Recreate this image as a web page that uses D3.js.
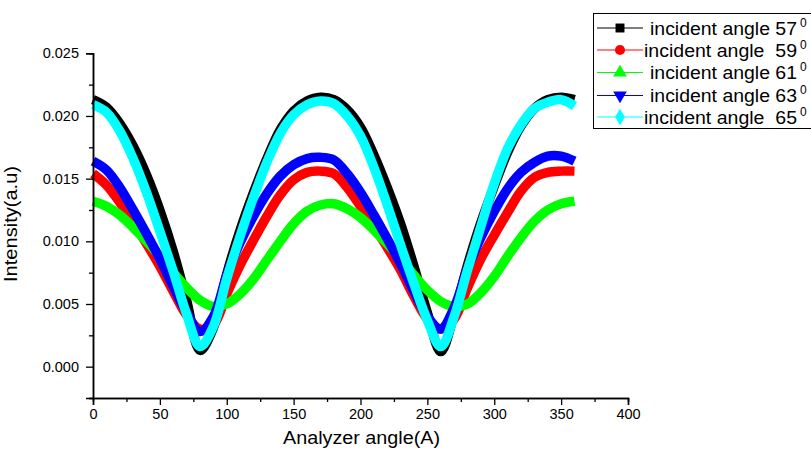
<!DOCTYPE html>
<html>
<head>
<meta charset="utf-8">
<script src="https://cdn.jsdelivr.net/npm/d3@7"></script>
<style>
  body { margin: 0; background: #fff; }
  svg { display: block; font-family: "Liberation Sans", Arial, sans-serif; }
</style>
</head>
<body>
<div id="chart"></div>
<script>

// analyzer angle (degrees)
var angles = [0, 10, 20, 30, 40, 50, 60, 70, 80, 90, 100, 110, 120, 130, 140, 150, 160, 170, 180,
  190, 200, 210, 220, 230, 240, 250, 260, 270, 280, 290, 300, 310, 320, 330, 340, 350, 360];

// intensity for each incident angle
var angle57 = [0.0213, 0.0207, 0.0194, 0.0176, 0.0153, 0.0125, 0.0092, 0.0053, 0.0013, 0.0031, 0.0074, 0.0109,
  0.0139, 0.0166, 0.0189, 0.0204, 0.0212, 0.0215, 0.0213, 0.0205, 0.0191, 0.0169, 0.0143, 0.0114, 0.0080,
  0.0043, 0.0012, 0.0042, 0.0081, 0.0115, 0.0144, 0.0171, 0.0192, 0.0206, 0.0213, 0.0215, 0.0213];
var angle59 = [0.0154, 0.0145, 0.0131, 0.0115, 0.0098, 0.0080, 0.0060, 0.0041, 0.0030, 0.0033, 0.0058, 0.0081,
  0.0101, 0.0120, 0.0137, 0.0149, 0.0155, 0.0156, 0.0154, 0.0143, 0.0128, 0.0112, 0.0095, 0.0077, 0.0056,
  0.0038, 0.0030, 0.0038, 0.0063, 0.0086, 0.0105, 0.0123, 0.0140, 0.0151, 0.0155, 0.0156, 0.0156];
var angle61 = [0.0132, 0.0128, 0.0121, 0.0111, 0.0100, 0.0088, 0.0075, 0.0063, 0.0053, 0.0048, 0.0050, 0.0058,
  0.0070, 0.0085, 0.0100, 0.0114, 0.0124, 0.0129, 0.0130, 0.0126, 0.0119, 0.0109, 0.0098, 0.0086, 0.0073,
  0.0061, 0.0052, 0.0048, 0.0050, 0.0059, 0.0072, 0.0088, 0.0103, 0.0116, 0.0125, 0.0130, 0.0132];
var angle63 = [0.0164, 0.0157, 0.0143, 0.0125, 0.0106, 0.0086, 0.0064, 0.0043, 0.0028, 0.0040, 0.0073, 0.0099,
  0.0120, 0.0138, 0.0152, 0.0161, 0.0166, 0.0167, 0.0165, 0.0154, 0.0139, 0.0121, 0.0102, 0.0082, 0.0060,
  0.0040, 0.0030, 0.0047, 0.0078, 0.0103, 0.0124, 0.0142, 0.0155, 0.0163, 0.0168, 0.0168, 0.0164];
var angle65 = [0.0209, 0.0203, 0.0188, 0.0166, 0.0139, 0.0108, 0.0076, 0.0042, 0.0016, 0.0032, 0.0070, 0.0104,
  0.0135, 0.0163, 0.0186, 0.0201, 0.0209, 0.0212, 0.0210, 0.0200, 0.0184, 0.0159, 0.0129, 0.0097, 0.0066,
  0.0037, 0.0016, 0.0040, 0.0077, 0.0112, 0.0146, 0.0174, 0.0193, 0.0206, 0.0211, 0.0213, 0.0208];

var seriesNames = ["57", "59", "61", "63", "65"];
var seriesGaps = ["incident angle ", "incident angle  ", "incident angle ", "incident angle ", "incident angle  "];
var seriesColors = ["#000000", "#ff0000", "#00ff00", "#0000ff", "#00ffff"];
var seriesSymbols = [d3.symbolSquare, d3.symbolCircle, d3.symbolTriangle, d3.symbolTriangle, d3.symbolDiamond];
var allSeries = [angle57, angle59, angle61, angle63, angle65];

var xTicks = [0, 50, 100, 150, 200, 250, 300, 350, 400];
var yTicks = [0.000, 0.005, 0.010, 0.015, 0.020, 0.025];

var W = 811, H = 449;

var svg = d3.select("#chart").append("svg")
    .attr("width", W)
    .attr("height", H);

var x = d3.scaleLinear().domain([0, 400]).range([93, 628]);
var y = d3.scaleLinear().domain([-0.0025, 0.025]).range([398, 53.3]);

// curves: thick bands like the dense markers of the original
var line = d3.line()
    .x(function(d) { return x(d[0]); })
    .y(function(d) { return y(d[1]); })
    .curve(d3.curveCatmullRom);

allSeries.forEach(function(vals, i) {
  var pts = angles.map(function(a, j) { return [a, vals[j]]; });
  svg.append("path")
    .datum(pts)
    .attr("d", line)
    .attr("fill", "none")
    .attr("stroke", seriesColors[i])
    .attr("stroke-width", 9.5)
    .attr("stroke-linejoin", "round");
});

// Y axis
svg.append("g")
    .attr("transform", "translate(93,0)")
    .call(d3.axisLeft(y).tickValues(yTicks).tickSize(7).tickPadding(7)
      .tickFormat(d3.format(".3f")));
svg.append("g")
    .attr("transform", "translate(93,0)")
    .call(d3.axisLeft(y).tickValues([-0.0025, 0.0025, 0.0075, 0.0125, 0.0175, 0.0225]).tickSize(4).tickFormat(""));

// X axis
svg.append("g")
    .attr("transform", "translate(0,398)")
    .call(d3.axisBottom(x).tickValues(xTicks).tickSize(7).tickPadding(4));
svg.append("g")
    .attr("transform", "translate(0,398)")
    .call(d3.axisBottom(x).tickValues([25, 75, 125, 175, 225, 275, 325, 375]).tickSize(4).tickFormat(""));

svg.selectAll(".domain").attr("stroke", "#000").attr("stroke-width", 1.5);
svg.selectAll(".tick line").attr("stroke", "#000").attr("stroke-width", 1.3);
svg.selectAll(".tick text")
    .attr("font-family", "Liberation Sans, Arial, sans-serif")
    .attr("font-size", 14.5)
    .attr("fill", "#000");

// axis titles
svg.append("text")
    .attr("x", 283)
    .attr("y", 444)
    .attr("font-size", 17.5)
    .attr("textLength", 157)
    .attr("lengthAdjust", "spacingAndGlyphs")
    .text("Analyzer angle(A)");

svg.append("text")
    .attr("transform", "translate(17,282) rotate(-90)")
    .attr("font-size", 17.5)
    .attr("textLength", 116)
    .attr("lengthAdjust", "spacingAndGlyphs")
    .text("Intensity(a.u)");

// legend
var legend = svg.append("g");
legend.append("rect")
    .attr("x", 593.5)
    .attr("y", 13.5)
    .attr("width", 240)
    .attr("height", 115)
    .attr("fill", "#fff")
    .attr("stroke", "#000")
    .attr("stroke-width", 1);

var rowY = [28, 50, 72.5, 95.5, 117];
seriesNames.forEach(function(name, i) {
  var cy = rowY[i];
  legend.append("line")
      .attr("x1", 597).attr("x2", 643)
      .attr("y1", cy).attr("y2", cy)
      .attr("stroke", seriesColors[i])
      .attr("stroke-width", 1);
  var rot = i == 3 ? 180 : 0;
  legend.append("path")
      .attr("d", d3.symbol().type(seriesSymbols[i]).size(i == 4 ? 80 : 80))
      .attr("transform", "translate(620," + cy + ") rotate(" + rot + ")")
      .attr("fill", seriesColors[i]);
  var startX = seriesGaps[i].length > 15 ? 644 : 650;
  legend.append("text")
      .attr("x", startX)
      .attr("y", cy + 6.5)
      .attr("font-size", 17.5)
      .attr("textLength", 797 - startX)
      .attr("lengthAdjust", "spacingAndGlyphs")
      .style("white-space", "pre")
      .text(seriesGaps[i] + name);
  legend.append("text")
      .attr("x", 800)
      .attr("y", cy - 1.5)
      .attr("font-size", 12)
      .text("0");
});

</script>
</body>
</html>
